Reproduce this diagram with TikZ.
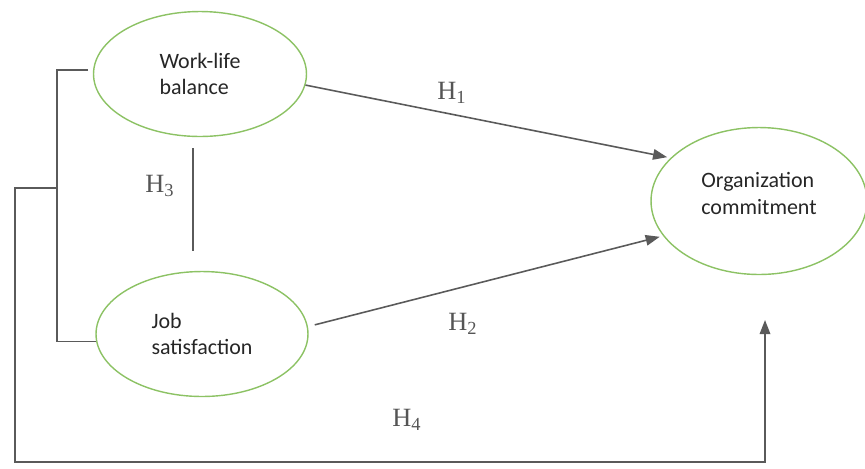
\documentclass[tikz,border=0pt]{standalone}
\usepackage{fontspec}
\setmainfont{Carlito}
\newfontfamily\hfont{Liberation Serif}
\usepackage{xcolor}
\usetikzlibrary{arrows.meta,shapes.geometric}
\definecolor{ovalgreen}{RGB}{140,194,100}
\definecolor{linegray}{RGB}{90,90,90}
\definecolor{labelgray}{RGB}{85,85,85}
\newcommand{\hlabel}[1]{{\hfont H\textsubscript{#1}}}

\begin{document}
\begin{tikzpicture}[x=0.02cm,y=-0.02cm,
  construct/.style={ellipse,draw=ovalgreen,line width=0.8pt,align=left,text=black!85,
    font=\fontsize{12.5}{15.3}\selectfont},
  link/.style={draw=linegray,line width=0.9pt},
  arr/.style={link,-{Triangle[length=8pt,width=6pt]}},
  hyp/.style={text=labelgray,font=\fontsize{15}{18}\selectfont}]
\useasboundingbox (0,0) rectangle (865,468);
% constructs
\node[construct,minimum width=4.26cm,minimum height=2.5cm] (wlb) at (200,74) {Work-life\\balance};
\node[construct,minimum width=4.24cm,minimum height=2.5cm] (job) at (202,334) {Job\\satisfaction};
\node[construct,minimum width=4.32cm,minimum height=2.94cm,text depth=9pt] (org) at (759,201) {Organization\\commitment};
% helper points
\coordinate (brtop) at (88,70);
\coordinate (brjoin) at (57,188);
\coordinate (outer) at (15,462);
\coordinate (h4tip) at (765,320);
\coordinate (h3top) at (193,148);
\coordinate (h3bot) at (193,251);
% paths
\draw[arr,shorten >=2pt] (wlb.-6) -- (org.154);
\draw[arr,shorten <=4pt,shorten >=2pt] (job.4) -- (org.-160);
\draw[link] (h3top) -- (h3bot);
\draw[link] (brtop) -| (brjoin) |- (job.184);
\draw[arr] (brjoin) -| (outer) -| (h4tip);
% labels
\node[hyp] (h1) at (452,93) {\hlabel{1}};
\node[hyp] (h2) at (463,324) {\hlabel{2}};
\node[hyp] (h3) at (160,186) {\hlabel{3}};
\node[hyp] (h4) at (407,420) {\hlabel{4}};
\end{tikzpicture}
\end{document}
